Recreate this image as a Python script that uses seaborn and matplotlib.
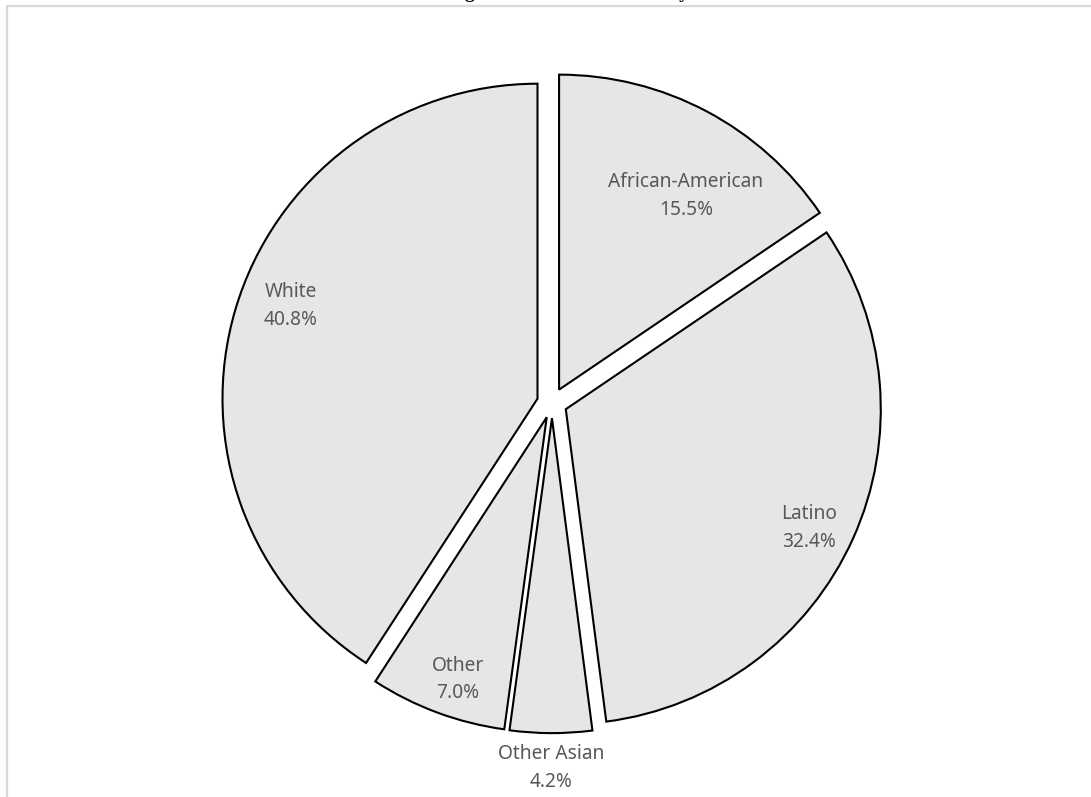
import matplotlib
matplotlib.use("Agg")
import matplotlib.pyplot as plt
from matplotlib.patches import Rectangle
import numpy as np
import seaborn as sns

# Enrollment share by group, clockwise from 12 o'clock
groups = ["African-American", "Latino", "Other Asian", "Other", "White"]
shares = [15.5, 32.4, 4.2, 7.0, 40.8]
share_labels = ["15.5%", "32.4%", "4.2%", "7.0%", "40.8%"]
title_text = "Undergraduate Race & Ethnicity"

sns.set_theme(style="white")
plt.rcParams["font.family"] = ["Noto Sans", "DejaVu Sans"]

W, H, DPI = 1091, 797, 100
fig = plt.figure(figsize=(W / DPI, H / DPI), dpi=DPI)
fig.patch.set_facecolor("white")

# light grey chart-area frame
fig.patches.append(Rectangle((6.5 / W, -0.05), 1.2, 1 - 5.5 / H + 0.05,
                             transform=fig.transFigure, fill=False,
                             edgecolor="#d9d9d9", linewidth=1.6, zorder=0))

# title sits above the visible area
fig.text(550 / W, 1 + 1.5 / H, title_text, ha="center", va="baseline",
         fontsize=14, fontweight="bold", family="Liberation Serif",
         color="black")

# axes sized so one data unit equals the pie radius in pixels
R_PX = 315
half = 1.3
side = 2 * half * R_PX
cx, cy = 552, H - 403
ax = fig.add_axes([(cx - side / 2) / W, (cy - side / 2) / H, side / W, side / H])

explode = [0.048] * len(shares)
wedges, _ = ax.pie(shares, explode=explode, startangle=90, counterclock=False,
                   colors=["#e6e6e6"] * len(shares),
                   wedgeprops=dict(edgecolor="black", linewidth=1.5),
                   radius=1.0)
ax.set_xlim(-half, half)
ax.set_ylim(-half, half)
ax.set_aspect("auto")
ax.axis("off")

# label distance from the wedge tip (radius units) and angular nudge (deg)
label_dist = [0.735, 0.858, 1.11, 0.879, 0.837]
angle_shift = [-5.3, -1.75, 0.0, 1.7, -4.1]
for w, name, lab, d, da in zip(wedges, groups, share_labels, label_dist, angle_shift):
    mid = np.deg2rad((w.theta1 + w.theta2) / 2 + da)
    tip = np.array(w.center)
    x = tip[0] + d * np.cos(mid)
    y = tip[1] + d * np.sin(mid)
    ax.text(x, y, f"{name}\n{lab}", ha="center", va="center", fontsize=13.8,
            color="#595959", linespacing=1.52, clip_on=False)

fig.savefig("out.png", dpi=DPI)
